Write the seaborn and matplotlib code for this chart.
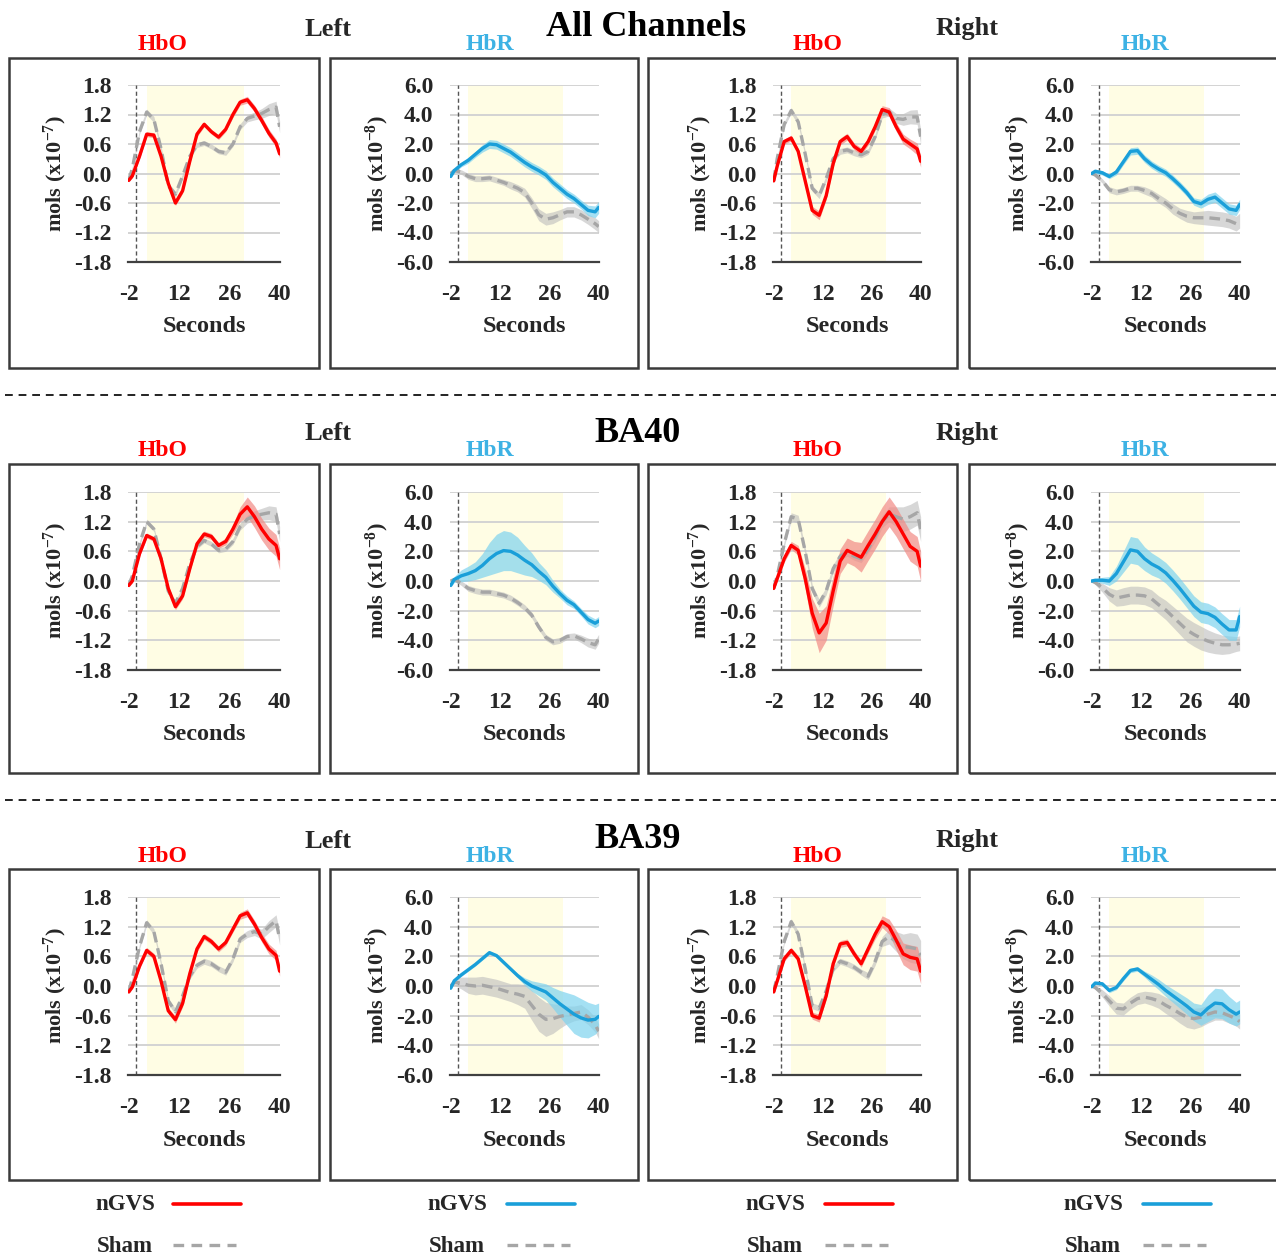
import numpy as np
import pandas as pd
import matplotlib
matplotlib.use("Agg")
import matplotlib.pyplot as plt
from matplotlib.patches import Rectangle
from matplotlib.lines import Line2D
import seaborn as sns

sns.set_theme(style="white")
plt.rcParams["font.family"] = ["Liberation Serif", "DejaVu Serif"]
plt.rcParams["font.weight"] = "bold"
plt.rcParams["mathtext.fontset"] = "custom"
plt.rcParams["mathtext.rm"] = "Liberation Serif:bold"
plt.rcParams["mathtext.it"] = "Liberation Serif:italic:bold"
plt.rcParams["mathtext.bf"] = "Liberation Serif:bold"

# ---------------- data (time in seconds) ----------------
T = [-2, -1, 1, 3, 5, 7, 9, 11, 13, 15, 17, 19, 21, 23, 25, 27, 29, 31, 33, 35, 37, 39, 40]

HBO_TICKS = [-1.8, -1.2, -0.6, 0.0, 0.6, 1.2, 1.8]
HBO_TICKLABELS = ["-1.8", "-1.2", "-0.6", "0.0", "0.6", "1.2", "1.8"]
HBR_TICKS = [-6.0, -4.0, -2.0, 0.0, 2.0, 4.0, 6.0]
HBR_TICKLABELS = ["-6.0", "-4.0", "-2.0", "0.0", "2.0", "4.0", "6.0"]
X_TICKS = [-2, 12, 26, 40]
X_TICKLABELS = ["-2", "12", "26", "40"]
STIM_START, STIM_END = 3, 30
ONSET = 0

REGIONS = ["All Channels", "BA40", "BA39"]

# All channels, left
ALL_L_HBO_NGVS = [-0.14, -0.05, 0.35, 0.80, 0.78, 0.35, -0.20, -0.60, -0.35, 0.25, 0.80, 1.00, 0.85, 0.74, 0.90, 1.20, 1.45, 1.50, 1.32, 1.08, 0.82, 0.62, 0.40]
ALL_L_HBO_SHAM = [-0.14, 0.10, 0.85, 1.25, 1.10, 0.50, -0.25, -0.42, -0.05, 0.35, 0.58, 0.62, 0.55, 0.45, 0.42, 0.60, 0.95, 1.12, 1.17, 1.22, 1.30, 1.35, 0.95]
ALL_L_HBO_NGVS_SD = [0.03, 0.04, 0.05, 0.05, 0.05, 0.05, 0.05, 0.05, 0.05, 0.05, 0.05, 0.05, 0.05, 0.05, 0.05, 0.06, 0.06, 0.07, 0.07, 0.08, 0.08, 0.08, 0.08]
ALL_L_HBO_SHAM_SD = [0.03, 0.04, 0.05, 0.06, 0.06, 0.06, 0.06, 0.06, 0.05, 0.05, 0.05, 0.05, 0.05, 0.05, 0.05, 0.05, 0.06, 0.07, 0.08, 0.10, 0.12, 0.12, 0.12]
ALL_L_HBR_NGVS = [-0.20, 0.20, 0.60, 0.90, 1.30, 1.70, 2.00, 1.95, 1.70, 1.45, 1.10, 0.75, 0.45, 0.20, -0.10, -0.60, -1.00, -1.40, -1.70, -2.10, -2.50, -2.60, -2.30]
ALL_L_HBR_SHAM = [0.00, 0.20, 0.10, -0.20, -0.35, -0.35, -0.30, -0.45, -0.60, -0.80, -1.00, -1.30, -2.00, -2.80, -3.10, -3.00, -2.80, -2.60, -2.60, -2.80, -3.10, -3.40, -3.60]
ALL_L_HBR_NGVS_SD = [0.10, 0.15, 0.15, 0.20, 0.20, 0.25, 0.30, 0.30, 0.30, 0.30, 0.30, 0.30, 0.30, 0.30, 0.30, 0.30, 0.30, 0.30, 0.30, 0.30, 0.35, 0.40, 0.40]
ALL_L_HBR_SHAM_SD = [0.05, 0.10, 0.15, 0.20, 0.20, 0.20, 0.20, 0.20, 0.20, 0.25, 0.25, 0.30, 0.35, 0.40, 0.40, 0.40, 0.35, 0.35, 0.35, 0.35, 0.35, 0.40, 0.40]

# All channels, right
ALL_R_HBO_NGVS = [-0.15, 0.15, 0.65, 0.72, 0.45, -0.15, -0.75, -0.85, -0.45, 0.20, 0.65, 0.75, 0.55, 0.45, 0.65, 0.95, 1.30, 1.25, 0.95, 0.70, 0.60, 0.50, 0.25]
ALL_R_HBO_SHAM = [-0.15, 0.30, 1.00, 1.28, 1.05, 0.40, -0.30, -0.45, -0.10, 0.30, 0.45, 0.48, 0.42, 0.38, 0.45, 0.75, 1.20, 1.25, 1.12, 1.10, 1.15, 1.15, 0.75]
ALL_R_HBO_NGVS_SD = [0.03, 0.04, 0.05, 0.06, 0.06, 0.07, 0.08, 0.09, 0.08, 0.07, 0.07, 0.07, 0.07, 0.07, 0.07, 0.07, 0.08, 0.09, 0.09, 0.10, 0.10, 0.12, 0.12]
ALL_R_HBO_SHAM_SD = [0.03, 0.04, 0.05, 0.06, 0.06, 0.06, 0.06, 0.06, 0.06, 0.06, 0.06, 0.06, 0.06, 0.06, 0.06, 0.06, 0.07, 0.08, 0.10, 0.12, 0.14, 0.15, 0.15]
ALL_R_HBR_NGVS = [0.00, 0.15, 0.05, -0.20, 0.10, 0.80, 1.50, 1.55, 1.00, 0.60, 0.30, 0.05, -0.35, -0.80, -1.30, -1.90, -2.05, -1.75, -1.60, -2.00, -2.40, -2.50, -2.10]
ALL_R_HBR_SHAM = [0.00, -0.10, -0.50, -1.10, -1.25, -1.15, -1.00, -1.00, -1.15, -1.35, -1.70, -2.00, -2.40, -2.70, -2.90, -3.00, -3.00, -3.00, -3.05, -3.10, -3.20, -3.40, -3.20]
ALL_R_HBR_NGVS_SD = [0.10, 0.15, 0.15, 0.15, 0.20, 0.20, 0.25, 0.25, 0.25, 0.25, 0.25, 0.25, 0.25, 0.25, 0.25, 0.25, 0.30, 0.35, 0.35, 0.35, 0.35, 0.35, 0.35]
ALL_R_HBR_SHAM_SD = [0.05, 0.10, 0.15, 0.20, 0.20, 0.20, 0.20, 0.20, 0.25, 0.25, 0.30, 0.30, 0.35, 0.35, 0.40, 0.40, 0.45, 0.50, 0.50, 0.50, 0.50, 0.50, 0.50]

# BA40, left
BA40_L_HBO_NGVS = [-0.09, 0.00, 0.55, 0.92, 0.85, 0.45, -0.15, -0.52, -0.30, 0.25, 0.75, 0.95, 0.90, 0.72, 0.80, 1.05, 1.35, 1.50, 1.30, 1.05, 0.85, 0.72, 0.45]
BA40_L_HBO_SHAM = [-0.09, 0.10, 0.75, 1.20, 1.05, 0.45, -0.20, -0.45, -0.15, 0.35, 0.70, 0.82, 0.75, 0.62, 0.65, 0.80, 1.10, 1.25, 1.32, 1.35, 1.38, 1.35, 0.95]
BA40_L_HBO_NGVS_SD = [0.03, 0.04, 0.05, 0.05, 0.05, 0.05, 0.05, 0.06, 0.06, 0.06, 0.06, 0.06, 0.06, 0.06, 0.07, 0.10, 0.15, 0.20, 0.22, 0.22, 0.22, 0.22, 0.22]
BA40_L_HBO_SHAM_SD = [0.03, 0.04, 0.05, 0.05, 0.05, 0.05, 0.05, 0.05, 0.05, 0.05, 0.05, 0.05, 0.05, 0.05, 0.05, 0.06, 0.07, 0.08, 0.10, 0.12, 0.14, 0.15, 0.15]
BA40_L_HBR_NGVS = [-0.30, 0.10, 0.35, 0.50, 0.70, 1.05, 1.50, 1.85, 2.05, 2.00, 1.75, 1.40, 1.10, 0.65, 0.25, -0.35, -0.85, -1.30, -1.60, -2.10, -2.60, -2.85, -2.70]
BA40_L_HBR_SHAM = [0.00, 0.10, -0.15, -0.50, -0.65, -0.75, -0.75, -0.85, -0.95, -1.15, -1.45, -1.80, -2.30, -3.10, -3.80, -4.10, -4.00, -3.75, -3.70, -3.90, -4.15, -4.30, -3.90]
BA40_L_HBR_NGVS_SD = [0.10, 0.20, 0.40, 0.50, 0.60, 0.80, 1.10, 1.30, 1.35, 1.30, 1.20, 1.00, 0.80, 0.60, 0.50, 0.40, 0.30, 0.30, 0.25, 0.25, 0.30, 0.30, 0.30]
BA40_L_HBR_SHAM_SD = [0.05, 0.10, 0.15, 0.20, 0.20, 0.20, 0.20, 0.20, 0.20, 0.20, 0.20, 0.20, 0.20, 0.20, 0.20, 0.20, 0.20, 0.20, 0.20, 0.25, 0.30, 0.30, 0.30]

# BA40, right
BA40_R_HBO_NGVS = [-0.15, 0.05, 0.45, 0.72, 0.62, 0.05, -0.65, -1.05, -0.85, -0.20, 0.40, 0.62, 0.55, 0.48, 0.72, 0.95, 1.20, 1.40, 1.20, 0.95, 0.70, 0.60, 0.30]
BA40_R_HBO_SHAM = [-0.15, 0.10, 0.75, 1.30, 1.25, 0.60, -0.15, -0.45, -0.20, 0.25, 0.50, 0.58, 0.50, 0.45, 0.65, 0.90, 1.20, 1.35, 1.30, 1.25, 1.30, 1.38, 1.05]
BA40_R_HBO_NGVS_SD = [0.02, 0.05, 0.07, 0.08, 0.10, 0.20, 0.30, 0.40, 0.35, 0.30, 0.25, 0.25, 0.25, 0.30, 0.30, 0.30, 0.30, 0.30, 0.30, 0.30, 0.30, 0.30, 0.30]
BA40_R_HBO_SHAM_SD = [0.03, 0.05, 0.06, 0.08, 0.08, 0.08, 0.08, 0.08, 0.08, 0.08, 0.08, 0.08, 0.08, 0.08, 0.08, 0.10, 0.12, 0.15, 0.20, 0.25, 0.25, 0.25, 0.25]
BA40_R_HBR_NGVS = [0.00, 0.05, 0.05, 0.00, 0.50, 1.30, 2.10, 2.00, 1.50, 1.15, 0.90, 0.55, 0.05, -0.50, -1.10, -1.70, -2.10, -2.20, -2.45, -2.90, -3.30, -3.30, -2.40]
BA40_R_HBR_SHAM = [0.00, -0.10, -0.45, -0.90, -1.15, -1.05, -0.95, -0.95, -1.00, -1.20, -1.60, -1.95, -2.40, -2.85, -3.30, -3.60, -3.85, -4.05, -4.20, -4.30, -4.30, -4.25, -4.20]
BA40_R_HBR_NGVS_SD = [0.05, 0.10, 0.20, 0.30, 0.50, 0.70, 0.90, 0.90, 0.80, 0.75, 0.70, 0.70, 0.70, 0.70, 0.70, 0.70, 0.70, 0.70, 0.70, 0.70, 0.70, 0.70, 0.70]
BA40_R_HBR_SHAM_SD = [0.05, 0.15, 0.30, 0.45, 0.55, 0.60, 0.60, 0.60, 0.60, 0.60, 0.60, 0.65, 0.70, 0.75, 0.80, 0.80, 0.80, 0.75, 0.70, 0.65, 0.60, 0.50, 0.50]

# BA39, left
BA39_L_HBO_NGVS = [-0.12, -0.02, 0.40, 0.72, 0.60, 0.10, -0.50, -0.68, -0.35, 0.25, 0.75, 1.00, 0.90, 0.75, 0.88, 1.15, 1.42, 1.48, 1.25, 0.98, 0.75, 0.62, 0.30]
BA39_L_HBO_SHAM = [-0.12, 0.15, 0.80, 1.28, 1.10, 0.45, -0.30, -0.52, -0.20, 0.20, 0.42, 0.50, 0.45, 0.35, 0.28, 0.55, 0.95, 1.05, 1.10, 1.05, 1.20, 1.32, 0.95]
BA39_L_HBO_NGVS_SD = [0.03, 0.04, 0.05, 0.06, 0.06, 0.06, 0.06, 0.07, 0.07, 0.06, 0.06, 0.06, 0.06, 0.06, 0.06, 0.06, 0.07, 0.08, 0.08, 0.09, 0.10, 0.10, 0.10]
BA39_L_HBO_SHAM_SD = [0.03, 0.04, 0.05, 0.06, 0.06, 0.06, 0.06, 0.06, 0.06, 0.06, 0.06, 0.06, 0.06, 0.06, 0.06, 0.06, 0.07, 0.07, 0.08, 0.10, 0.12, 0.12, 0.12]
BA39_L_HBR_NGVS = [-0.15, 0.35, 0.75, 1.10, 1.45, 1.85, 2.25, 2.05, 1.60, 1.15, 0.70, 0.30, 0.00, -0.20, -0.40, -0.80, -1.20, -1.55, -1.90, -2.15, -2.30, -2.25, -2.05]
BA39_L_HBR_SHAM = [0.00, 0.25, 0.20, 0.05, 0.00, 0.05, -0.05, -0.15, -0.30, -0.45, -0.55, -0.70, -1.30, -1.90, -2.25, -2.20, -2.05, -1.95, -1.85, -1.75, -2.10, -2.60, -3.05]
BA39_L_HBR_NGVS_SD = [0.05, 0.10, 0.10, 0.10, 0.10, 0.10, 0.10, 0.10, 0.10, 0.10, 0.15, 0.25, 0.35, 0.45, 0.55, 0.70, 0.90, 1.10, 1.30, 1.30, 1.20, 1.00, 0.90]
BA39_L_HBR_SHAM_SD = [0.05, 0.20, 0.40, 0.55, 0.60, 0.60, 0.60, 0.60, 0.60, 0.60, 0.70, 0.80, 1.00, 1.15, 1.15, 1.00, 0.80, 0.60, 0.50, 0.50, 0.50, 0.50, 0.50]

# BA39, right
BA39_R_HBO_NGVS = [-0.12, 0.10, 0.55, 0.72, 0.55, 0.00, -0.60, -0.65, -0.20, 0.45, 0.85, 0.88, 0.65, 0.45, 0.75, 1.05, 1.30, 1.20, 0.93, 0.65, 0.58, 0.55, 0.30]
BA39_R_HBO_SHAM = [-0.12, 0.20, 0.90, 1.30, 1.05, 0.35, -0.40, -0.45, -0.10, 0.35, 0.50, 0.45, 0.38, 0.28, 0.20, 0.50, 0.90, 1.00, 0.90, 0.80, 0.78, 0.75, 0.62]
BA39_R_HBO_NGVS_SD = [0.03, 0.04, 0.05, 0.06, 0.06, 0.07, 0.07, 0.08, 0.07, 0.07, 0.07, 0.07, 0.07, 0.07, 0.08, 0.10, 0.12, 0.15, 0.20, 0.22, 0.25, 0.25, 0.25]
BA39_R_HBO_SHAM_SD = [0.03, 0.04, 0.05, 0.06, 0.06, 0.06, 0.06, 0.06, 0.06, 0.06, 0.06, 0.06, 0.06, 0.06, 0.07, 0.08, 0.10, 0.15, 0.20, 0.25, 0.30, 0.30, 0.30]
BA39_R_HBR_NGVS = [-0.05, 0.20, 0.15, -0.30, -0.10, 0.50, 1.05, 1.15, 0.80, 0.45, 0.10, -0.30, -0.65, -1.00, -1.35, -1.75, -1.95, -1.50, -1.15, -1.20, -1.60, -1.90, -1.75]
BA39_R_HBR_SHAM = [0.00, -0.10, -0.50, -1.00, -1.50, -1.55, -1.15, -0.85, -0.75, -0.85, -1.00, -1.30, -1.55, -1.85, -2.10, -2.20, -2.10, -1.90, -1.75, -1.80, -2.00, -2.20, -2.40]
BA39_R_HBR_NGVS_SD = [0.05, 0.10, 0.10, 0.15, 0.15, 0.15, 0.15, 0.15, 0.20, 0.30, 0.35, 0.40, 0.45, 0.50, 0.55, 0.60, 0.70, 0.90, 1.00, 1.00, 0.90, 0.80, 0.80]
BA39_R_HBR_SHAM_SD = [0.05, 0.15, 0.25, 0.35, 0.40, 0.40, 0.40, 0.40, 0.40, 0.45, 0.50, 0.55, 0.60, 0.65, 0.70, 0.70, 0.65, 0.60, 0.55, 0.50, 0.50, 0.50, 0.50]

PANELS = {
    ("All Channels", "L", "HbO"): (ALL_L_HBO_NGVS, ALL_L_HBO_SHAM, ALL_L_HBO_NGVS_SD, ALL_L_HBO_SHAM_SD),
    ("All Channels", "L", "HbR"): (ALL_L_HBR_NGVS, ALL_L_HBR_SHAM, ALL_L_HBR_NGVS_SD, ALL_L_HBR_SHAM_SD),
    ("All Channels", "R", "HbO"): (ALL_R_HBO_NGVS, ALL_R_HBO_SHAM, ALL_R_HBO_NGVS_SD, ALL_R_HBO_SHAM_SD),
    ("All Channels", "R", "HbR"): (ALL_R_HBR_NGVS, ALL_R_HBR_SHAM, ALL_R_HBR_NGVS_SD, ALL_R_HBR_SHAM_SD),
    ("BA40", "L", "HbO"): (BA40_L_HBO_NGVS, BA40_L_HBO_SHAM, BA40_L_HBO_NGVS_SD, BA40_L_HBO_SHAM_SD),
    ("BA40", "L", "HbR"): (BA40_L_HBR_NGVS, BA40_L_HBR_SHAM, BA40_L_HBR_NGVS_SD, BA40_L_HBR_SHAM_SD),
    ("BA40", "R", "HbO"): (BA40_R_HBO_NGVS, BA40_R_HBO_SHAM, BA40_R_HBO_NGVS_SD, BA40_R_HBO_SHAM_SD),
    ("BA40", "R", "HbR"): (BA40_R_HBR_NGVS, BA40_R_HBR_SHAM, BA40_R_HBR_NGVS_SD, BA40_R_HBR_SHAM_SD),
    ("BA39", "L", "HbO"): (BA39_L_HBO_NGVS, BA39_L_HBO_SHAM, BA39_L_HBO_NGVS_SD, BA39_L_HBO_SHAM_SD),
    ("BA39", "L", "HbR"): (BA39_L_HBR_NGVS, BA39_L_HBR_SHAM, BA39_L_HBR_NGVS_SD, BA39_L_HBR_SHAM_SD),
    ("BA39", "R", "HbO"): (BA39_R_HBO_NGVS, BA39_R_HBO_SHAM, BA39_R_HBO_NGVS_SD, BA39_R_HBO_SHAM_SD),
    ("BA39", "R", "HbR"): (BA39_R_HBR_NGVS, BA39_R_HBR_SHAM, BA39_R_HBR_NGVS_SD, BA39_R_HBR_SHAM_SD),
}
COLUMNS = [("L", "HbO"), ("L", "HbR"), ("R", "HbO"), ("R", "HbR")]

# ---------------- style ----------------
RED = "#FF0000"
BLUE = "#1A9FD9"
GRAY = "#A6A6A6"
HBR_TITLE = "#3DB2E4"
RED_BAND = "#F28A85"
BLUE_BAND = "#7ED3EF"
GRAY_BAND = "#BDBDBD"
YELLOW = "#FFFDE4"
GRID = "#D3D3D3"
FRAME = "#3A3A3A"

W, H = 1276, 1258
fig = plt.figure(figsize=(W / 100, H / 100), dpi=100)


def fx(x):
    return x / W


def fy(y):
    return 1 - y / H


AX_X = [(128, 280), (450, 599), (773, 921), (1091, 1240)]
AX_Y = [(85, 262), (492, 670), (897, 1075)]
BOX_X = [(9, 319), (330, 638), (648, 957), (969, 1285)]
BOX_Y = [(58, 368), (464, 773), (869, 1180)]
TITLE_Y = [28, 433, 840]

for r, region in enumerate(REGIONS):
    ty = TITLE_Y[r]
    fig.text(fx(646 if r == 0 else 638), fy(ty), region, ha="center", va="center",
             fontsize=26, fontweight="bold", color="black")
    fig.text(fx(328), fy(ty + 1), "Left", ha="center", va="center", fontsize=19, fontweight="bold")
    fig.text(fx(967), fy(ty + 1), "Right", ha="center", va="center", fontsize=19, fontweight="bold")
    for c, (side, chrom) in enumerate(COLUMNS):
        cx = [163, 490, 818, 1145][c]
        fig.text(fx(cx), fy(ty + 17), chrom, ha="center", va="center", fontsize=17,
                 fontweight="bold", color=RED if chrom == "HbO" else HBR_TITLE)
        # panel frame
        bx0, bx1 = BOX_X[c]
        by0, by1 = BOX_Y[r]
        fig.add_artist(Rectangle((fx(bx0), fy(by1)), (bx1 - bx0) / W, (by1 - by0) / H,
                                 transform=fig.transFigure, fill=False, lw=1.8, ec=FRAME))
        x0, x1 = AX_X[c]
        y0, y1 = AX_Y[r]
        ax = fig.add_axes([fx(x0), fy(y1), (x1 - x0) / W, (y1 - y0) / H])
        ngvs, sham, ngvs_sd, sham_sd = PANELS[(region, side, chrom)]
        col = RED if chrom == "HbO" else BLUE
        band = RED_BAND if chrom == "HbO" else BLUE_BAND
        df = pd.DataFrame({
            "t": T + T,
            "v": list(sham) + list(ngvs),
            "cond": ["Sham"] * len(T) + ["nGVS"] * len(T),
        })
        ax.axvspan(STIM_START, STIM_END, color=YELLOW, zorder=0.1, lw=0)
        ax.fill_between(T, np.array(sham) - np.array(sham_sd), np.array(sham) + np.array(sham_sd),
                        color=GRAY_BAND, alpha=0.6, lw=0, zorder=1.2)
        ax.fill_between(T, np.array(ngvs) - np.array(ngvs_sd), np.array(ngvs) + np.array(ngvs_sd),
                        color=band, alpha=0.7, lw=0, zorder=1.3)
        sns.lineplot(data=df, x="t", y="v", hue="cond", style="cond",
                     hue_order=["Sham", "nGVS"], style_order=["Sham", "nGVS"],
                     palette={"Sham": GRAY, "nGVS": col},
                     dashes={"Sham": (3.2, 1.8), "nGVS": ""},
                     linewidth=2.4, legend=False, sort=False, errorbar=None, ax=ax)
        for ln in ax.lines:
            ln.set_zorder(2)
            ln.set_solid_joinstyle("round")
        ax.axvline(ONSET, color="#555555", lw=1.0, ls=(0, (3, 2)), zorder=1.1)
        if chrom == "HbO":
            ax.set_ylim(-1.8, 1.8)
            ax.set_yticks(HBO_TICKS)
            ax.set_yticklabels(HBO_TICKLABELS)
            ylab = r"mols (x10$^{-7}$)"
        else:
            ax.set_ylim(-6, 6)
            ax.set_yticks(HBR_TICKS)
            ax.set_yticklabels(HBR_TICKLABELS)
            ylab = r"mols (x10$^{-8}$)"
        ax.set_xlim(-2.2, 40.1)
        ax.set_xticks(X_TICKS)
        ax.set_xticklabels(X_TICKLABELS)
        ax.set_facecolor("none")
        ax.set_axisbelow(True)
        ax.yaxis.grid(True, color=GRID, lw=1.4, zorder=0.5)
        ax.xaxis.grid(False)
        for s in ["top", "right", "left"]:
            ax.spines[s].set_visible(False)
        ax.spines["bottom"].set_color("#404040")
        ax.spines["bottom"].set_linewidth(1.6)
        ax.tick_params(axis="x", direction="in", length=6, width=1.6, color="#404040",
                       pad=16, labelsize=17)
        ax.tick_params(axis="y", length=0, pad=12, labelsize=17)
        for lab in ax.get_xticklabels() + ax.get_yticklabels():
            lab.set_fontweight("bold")
        ax.set_xlabel("")
        ax.set_ylabel("")
        axh = y1 - y0
        axw = x1 - x0
        ax.text(0.5, -(65) / axh, "Seconds", transform=ax.transAxes, ha="center", va="center",
                fontsize=17.5, fontweight="bold")
        ax.text(-73 / axw, 0.5, ylab, transform=ax.transAxes, ha="center", va="center",
                rotation=90, fontsize=16, fontweight="bold")

# dashed separators
for ys in [395, 800]:
    fig.add_artist(Line2D([fx(5), fx(1276)], [fy(ys), fy(ys)], transform=fig.transFigure,
                          color="#222222", lw=1.4, ls=(0, (4, 3))))

# legends
LEG_X = [(155, 173, 241), (487, 507, 575), (805, 825, 893), (1123, 1143, 1211)]
LEG_COL = [RED, BLUE, RED, BLUE]
for (tx, lx0, lx1), col in zip(LEG_X, LEG_COL):
    fig.text(fx(tx), fy(1205), "nGVS", ha="right", va="center", fontsize=16.5, fontweight="bold")
    fig.add_artist(Line2D([fx(lx0), fx(lx1)], [fy(1204), fy(1204)], transform=fig.transFigure,
                          color=col, lw=2.6))
    fig.text(fx(tx - 2), fy(1246), "Sham", ha="right", va="center", fontsize=16.5, fontweight="bold")
    fig.add_artist(Line2D([fx(lx0), fx(lx1 - 5)], [fy(1245), fy(1245)], transform=fig.transFigure,
                          color=GRAY, lw=2.4, ls=(0, (3.2, 2.2))))

fig.savefig("out.png", dpi=100, facecolor="white")
